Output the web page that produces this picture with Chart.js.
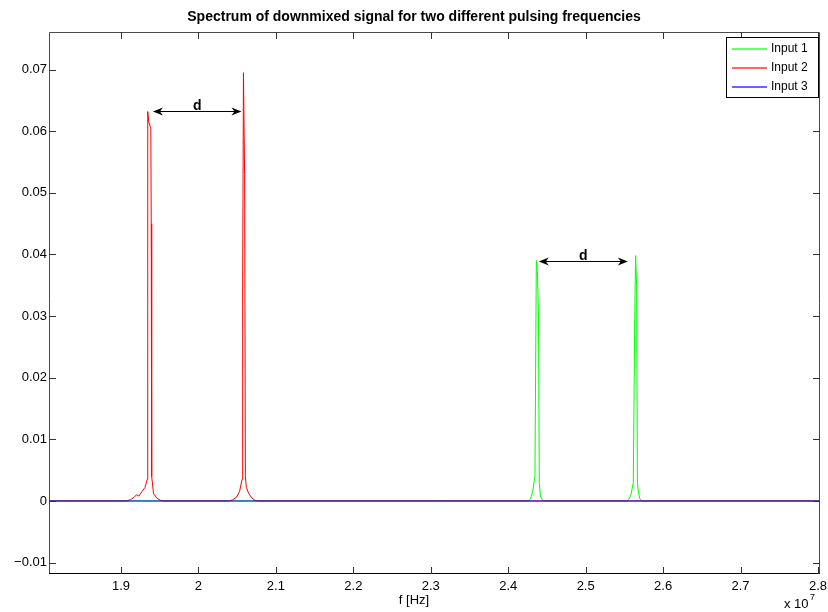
<!DOCTYPE html>
<html>
<head>
<meta charset="utf-8">
<script src="https://cdn.jsdelivr.net/npm/chart.js@4/dist/chart.umd.min.js"></script>
<style>
  html, body { margin: 0; padding: 0; background: #fff; }
  #wrap { width: 828px; height: 612px; }
</style>
</head>
<body>
<div id="wrap"><canvas id="spectrum" width="828" height="612"></canvas></div>
<script>
// frequencies in units of 1e7 Hz, amplitudes
const X_MIN = 1.807;
const X_MAX = 2.8026;
const Y_MIN = -0.01185;
const Y_MAX = 0.0761;

const xTicks = [1.9, 2, 2.1, 2.2, 2.3, 2.4, 2.5, 2.6, 2.7, 2.8];
const yTicks = [-0.01, 0, 0.01, 0.02, 0.03, 0.04, 0.05, 0.06, 0.07];
const seriesNames = ["Input 1", "Input 2", "Input 3"];

// Input 1 (green): two peaks around 2.44e7 and 2.56e7
const input1Freq = [1.807, 2.4255, 2.4288, 2.4315, 2.4345, 2.4363, 2.4377, 2.4391, 2.4401, 2.4416, 2.444, 2.447,
                    2.5525, 2.5555, 2.5585, 2.5615, 2.5634, 2.5645, 2.5658, 2.5668, 2.5681, 2.5698, 2.5725, 2.8026];
const input1Amp  = [0, 0, 0.0003, 0.0015, 0.004, 0.039, 0.037, 0.030, 0.003, 0.0008, 0.0002, 0,
                    0, 0.0002, 0.001, 0.003, 0.030, 0.0398, 0.035, 0.003, 0.0015, 0.0004, 0, 0];

// Input 2 (red): two peaks around 1.93e7 and 2.06e7
const input2Freq = [1.807, 1.907, 1.912, 1.917, 1.920, 1.923, 1.927, 1.931, 1.9338, 1.9345, 1.9358, 1.9385, 1.9390, 1.9396, 1.942, 1.946, 1.951, 1.956,
                    2.040, 2.044, 2.049, 2.053, 2.0563, 2.0571, 2.0581, 2.0596, 2.0606, 2.0619, 2.0649, 2.0689, 2.073, 2.077, 2.8026];
const input2Amp  = [0, 0, 0.0002, 0.0006, 0.0010, 0.0008, 0.0015, 0.0022, 0.0035, 0.0632, 0.0615, 0.0605, 0.045, 0.004, 0.0012, 0.0005, 0.0001, 0,
                    0, 0.0002, 0.0006, 0.0015, 0.0035, 0.036, 0.0695, 0.053, 0.004, 0.0022, 0.0012, 0.0005, 0.0001, 0, 0];

// Input 3 (blue): flat
const input3Freq = [1.807, 2.8026];
const input3Amp  = [0, 0];

// "d" spacing markers: [from, to, level]
const arrowFrom  = [1.9412, 2.4395];
const arrowTo    = [2.0555, 2.5545];
const arrowLevel = [0.0632, 0.039];

const colors = ["rgb(0,255,0)", "rgb(255,0,0)", "rgb(0,0,255)"];

function toPoints(xs, ys) {
  return xs.map((x, i) => ({ x: x, y: ys[i] }));
}

function arrowHead(ctx, x, y, dir) {
  // dir = -1 points left, 1 points right
  ctx.beginPath();
  ctx.moveTo(x, y);
  ctx.lineTo(x - dir * 10, y - 4);
  ctx.lineTo(x - dir * 7, y);
  ctx.lineTo(x - dir * 10, y + 4);
  ctx.closePath();
  ctx.fill();
}

const matlabFrame = {
  id: "matlabFrame",
  beforeDraw(chart) {
    const ctx = chart.ctx;
    ctx.save();
    ctx.fillStyle = "#fff";
    ctx.fillRect(0, 0, chart.width, chart.height);
    ctx.restore();
  },
  afterDatasetsDraw(chart) {
    const ctx = chart.ctx;
    const area = chart.chartArea;
    const xs = chart.scales.x;
    const ys = chart.scales.y;
    ctx.save();

    // box
    ctx.lineWidth = 1;
    ctx.strokeStyle = "#4a4a4a";
    ctx.beginPath();
    ctx.moveTo(area.left + 0.5, area.bottom);
    ctx.lineTo(area.left + 0.5, area.top + 0.5);
    ctx.lineTo(area.right - 0.5, area.top + 0.5);
    ctx.lineTo(area.right - 0.5, area.bottom);
    ctx.stroke();
    ctx.strokeStyle = "#000";
    ctx.beginPath();
    ctx.moveTo(area.left, area.bottom - 0.5);
    ctx.lineTo(area.right, area.bottom - 0.5);
    ctx.stroke();

    // inward ticks on all four sides
    const tl = 7;
    ctx.strokeStyle = "#333";
    ctx.beginPath();
    xTicks.forEach(v => {
      const px = Math.round(xs.getPixelForValue(v)) + 0.5;
      ctx.moveTo(px, area.bottom);
      ctx.lineTo(px, area.bottom - tl);
      ctx.moveTo(px, area.top);
      ctx.lineTo(px, area.top + tl);
    });
    yTicks.forEach(v => {
      const py = Math.round(ys.getPixelForValue(v)) + 0.5;
      ctx.moveTo(area.left, py);
      ctx.lineTo(area.left + tl, py);
      ctx.moveTo(area.right, py);
      ctx.lineTo(area.right - tl, py);
    });
    ctx.stroke();

    // spacing arrows
    ctx.strokeStyle = "#000";
    ctx.fillStyle = "#000";
    ctx.font = "bold 14px 'Liberation Sans', Arial, sans-serif";
    ctx.textAlign = "center";
    ctx.textBaseline = "alphabetic";
    arrowFrom.forEach((f, i) => {
      const x1 = xs.getPixelForValue(f);
      const x2 = xs.getPixelForValue(arrowTo[i]);
      const y = Math.round(ys.getPixelForValue(arrowLevel[i])) + 0.5;
      ctx.lineWidth = 1;
      ctx.beginPath();
      ctx.moveTo(x1 + 4, y);
      ctx.lineTo(x2 - 4, y);
      ctx.stroke();
      arrowHead(ctx, x1, y, -1);
      arrowHead(ctx, x2, y, 1);
      ctx.fillText("d", (x1 + x2) / 2, y - 2);
    });

    // legend
    const lx = 726, ly = 37, lw = 92, lh = 60;
    ctx.fillStyle = "#fff";
    ctx.fillRect(lx, ly, lw, lh);
    ctx.strokeStyle = "#000";
    ctx.lineWidth = 1;
    ctx.strokeRect(lx + 0.5, ly + 0.5, lw, lh);
    ctx.font = "12px 'Liberation Sans', Arial, sans-serif";
    ctx.textAlign = "left";
    ctx.textBaseline = "middle";
    seriesNames.forEach((name, i) => {
      const ry = ly + 12 + i * 19;
      ctx.strokeStyle = colors[i];
      ctx.globalAlpha = 0.6;
      ctx.lineWidth = 2;
      ctx.beginPath();
      ctx.moveTo(lx + 6, ry);
      ctx.lineTo(lx + 41, ry);
      ctx.stroke();
      ctx.globalAlpha = 1;
      ctx.fillStyle = "#000";
      ctx.fillText(name, lx + 45, ry);
    });
    ctx.restore();
  },
  afterDraw(chart) {
    const ctx = chart.ctx;
    ctx.save();
    ctx.fillStyle = "#000";
    ctx.textAlign = "center";
    ctx.textBaseline = "middle";
    ctx.font = "bold 14px 'Liberation Sans', Arial, sans-serif";
    ctx.fillText("Spectrum of downmixed signal for two different pulsing frequencies", 414, 17);
    ctx.font = "13px 'Liberation Sans', Arial, sans-serif";
    ctx.fillText("f [Hz]", 414, 600);
    ctx.textAlign = "left";
    ctx.fillText("x 10", 784, 604);
    ctx.font = "9px 'Liberation Sans', Arial, sans-serif";
    ctx.fillText("7", 810, 598);
    ctx.restore();
  }
};

new Chart(document.getElementById("spectrum"), {
  type: "line",
  data: {
    datasets: [
      { label: seriesNames[0], data: toPoints(input1Freq, input1Amp), borderColor: colors[0], order: 2 },
      { label: seriesNames[1], data: toPoints(input2Freq, input2Amp), borderColor: colors[1], order: 1 },
      { label: seriesNames[2], data: toPoints(input3Freq, input3Amp), borderColor: colors[2], order: 0 }
    ]
  },
  options: {
    responsive: false,
    animation: false,
    layout: { padding: { top: 32, right: 8, left: 0, bottom: 0 } },
    elements: {
      line: { borderWidth: 1, tension: 0 },
      point: { radius: 0, hoverRadius: 0 }
    },
    plugins: {
      legend: { display: false },
      title: { display: false },
      tooltip: { enabled: false }
    },
    scales: {
      x: {
        type: "linear",
        min: X_MIN,
        max: X_MAX,
        afterBuildTicks: s => { s.ticks = xTicks.map(v => ({ value: v })); },
        afterFit: s => { s.height = 38; s.paddingRight = 0; s.paddingLeft = 0; },
        grid: { display: false, drawTicks: false, tickLength: 0 },
        border: { display: false },
        ticks: {
          padding: 5,
          maxRotation: 0,
          autoSkip: false,
          color: "#000",
          font: { family: "'Liberation Sans', Arial, sans-serif", size: 13 },
          callback: v => String(v)
        }
      },
      y: {
        type: "linear",
        min: Y_MIN,
        max: Y_MAX,
        afterBuildTicks: s => { s.ticks = yTicks.map(v => ({ value: v })); },
        afterFit: s => { s.width = 49; s.paddingTop = 0; s.paddingBottom = 0; },
        grid: { display: false, drawTicks: false, tickLength: 0 },
        border: { display: false },
        ticks: {
          padding: 2,
          autoSkip: false,
          color: "#000",
          font: { family: "'Liberation Sans', Arial, sans-serif", size: 13 },
          callback: v => (v < 0 ? "\u2212" + String(-v) : String(v))
        }
      }
    }
  },
  plugins: [matlabFrame]
});
</script>
</body>
</html>
